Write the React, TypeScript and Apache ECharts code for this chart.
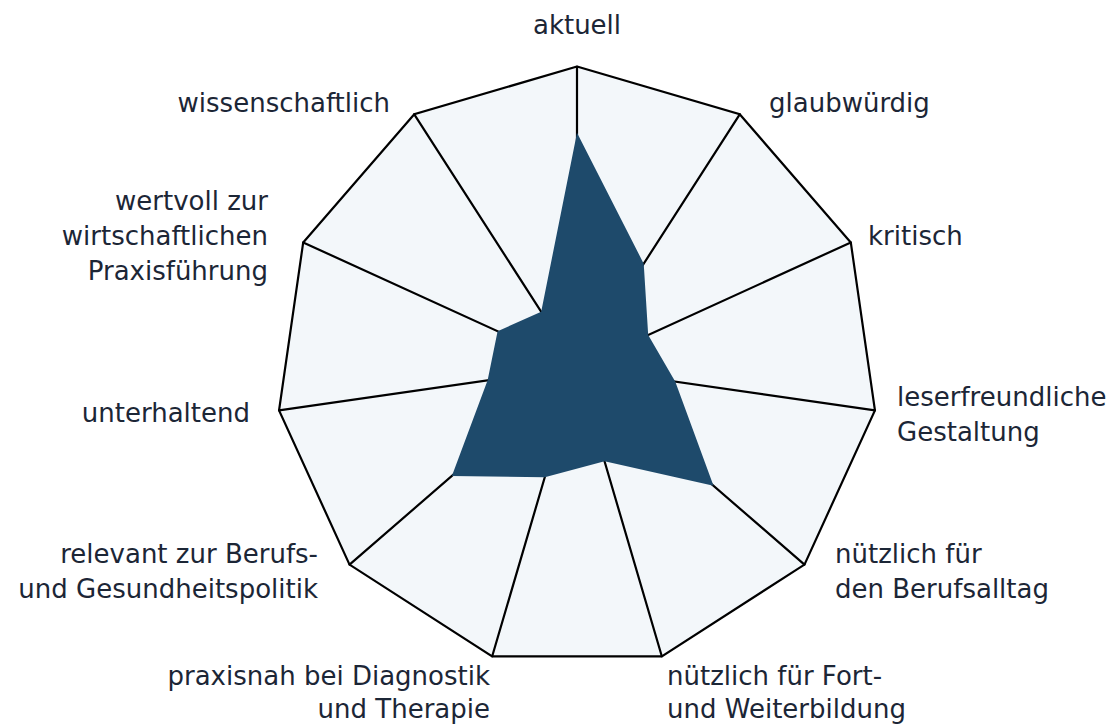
import React, { useEffect, useRef } from "react";
import * as echarts from "echarts";

// Indicators listed counter-clockwise from the top (ECharts radar direction)
const indicatorNames = [
  "aktuell",
  "wissenschaftlich",
  "wertvoll zur\nwirtschaftlichen\nPraxisführung",
  "unterhaltend",
  "relevant zur Berufs-\nund Gesundheitspolitik",
  "praxisnah bei Diagnostik\nund Therapie",
  "nützlich für Fort-\nund Weiterbildung",
  "nützlich für\nden Berufsalltag",
  "leserfreundliche\nGestaltung",
  "kritisch",
  "glaubwürdig",
];
const values = [78, 22, 29, 30, 55, 38, 32.5, 60, 33, 26, 41];
const maxValue = 100;

// label placement (anchor x, y, alignment, line height) for each indicator name
const labelLayout: [number, number, string, number][] = [
  [577, 25, "center", 35],
  [390, 103, "right", 35],
  [268, 236, "right", 35],
  [250, 413, "right", 35],
  [318, 571, "right", 35],
  [490, 692, "right", 33],
  [667, 692, "left", 33],
  [835, 571, "left", 35],
  [897, 414, "left", 35],
  [868, 236, "left", 35],
  [769, 103, "left", 35],
];

export default function App() {
  const ref = useRef<HTMLDivElement>(null);
  useEffect(() => {
    if (!ref.current) return;
    const chart = echarts.init(ref.current, undefined, { renderer: "svg" });
    chart.setOption({
      animation: false,
      radar: {
        center: [577, 367.5],
        radius: 301,
        shape: "polygon",
        splitNumber: 1,
        startAngle: 90,
        indicator: indicatorNames.map((n) => ({ name: n, max: maxValue })),
        axisName: { show: false },
        axisLine: { lineStyle: { color: "#000", width: 2.2 } },
        splitLine: { lineStyle: { color: "#000", width: 2.2 } },
        splitArea: { areaStyle: { color: ["#f3f7fa"] } },
        axisTick: { show: false },
        axisLabel: { show: false },
      },
      graphic: indicatorNames.map((n, i) => ({
        type: "text",
        x: labelLayout[i][0],
        y: labelLayout[i][1],
        style: {
          text: n,
          fill: "#1c2636",
          font: '26px "DejaVu Sans"',
          fontSize: 26,
          fontFamily: "DejaVu Sans",
          lineHeight: labelLayout[i][3],
          align: labelLayout[i][2],
          verticalAlign: "middle",
        },
      })),
      series: [
        {
          type: "radar",
          symbol: "none",
          lineStyle: { width: 0 },
          areaStyle: { color: "#1e4a6b", opacity: 1 },
          data: [{ value: values }],
        },
      ],
    });
    return () => chart.dispose();
  }, []);
  return (
    <div
      ref={ref}
      style={{ position: "absolute", left: 0, top: 0, width: 1115, height: 726 }}
    />
  );
}
